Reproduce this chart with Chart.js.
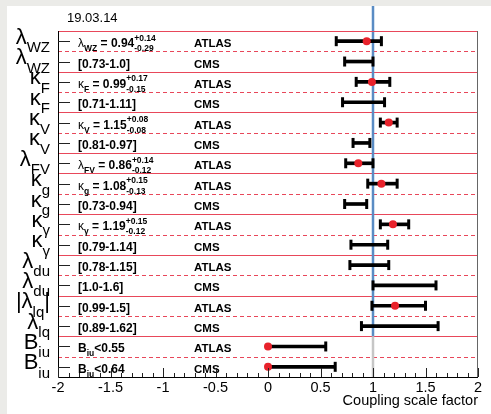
<!DOCTYPE html>
<html><head><meta charset="utf-8">
<script src="https://cdn.jsdelivr.net/npm/chart.js@4"></script>
<style>
html,body{margin:0;padding:0;background:#ebebe8;width:491px;height:414px;overflow:hidden}
#wrap{position:absolute;left:7px;top:6px;width:484px;height:408px;background:#fff}
canvas{display:block}
</style></head><body>
<div id="wrap"><canvas id="c" width="484" height="408"></canvas></div>
<script>
// ---- data ----
const dateText = '19.03.14';
const rowLabels = ['λ_{WZ}','λ_{WZ}','κ_{F}','κ_{F}','κ_{V}','κ_{V}','λ_{FV}','κ_{g}','κ_{g}','κ_{γ}','κ_{γ}','λ_{du}','λ_{du}','|λ_{lq}|','λ_{lq}','B_{iu}','B_{iu}'];
const experiments = ['ATLAS','CMS','ATLAS','CMS','ATLAS','CMS','ATLAS','ATLAS','CMS','ATLAS','CMS','ATLAS','CMS','ATLAS','CMS','ATLAS','CMS'];
const groups = ['WZ','WZ','F','F','V','V','FV','g','g','γ','γ','du','du','lq','lq','iu','iu'];
const resultTexts = [
  'λ_{WZ} = 0.94^{+0.14}_{-0.29}', '[0.73-1.0]',
  'κ_{F} = 0.99^{+0.17}_{-0.15}', '[0.71-1.11]',
  'κ_{V} = 1.15^{+0.08}_{-0.08}', '[0.81-0.97]',
  'λ_{FV} = 0.86^{+0.14}_{-0.12}',
  'κ_{g} = 1.08^{+0.15}_{-0.13}', '[0.73-0.94]',
  'κ_{γ} = 1.19^{+0.15}_{-0.12}', '[0.79-1.14]',
  '[0.78-1.15]', '[1.0-1.6]',
  '[0.99-1.5]', '[0.89-1.62]',
  'B_{iu}<0.55', 'B_{iu}<0.64'
];
const lowValues     = [0.65, 0.73, 0.84, 0.71, 1.07, 0.81, 0.74, 0.95, 0.73, 1.07, 0.79, 0.78, 1.00, 0.99, 0.89, 0.00, 0.00];
const highValues    = [1.08, 1.00, 1.16, 1.11, 1.23, 0.97, 1.00, 1.23, 0.94, 1.34, 1.14, 1.15, 1.60, 1.50, 1.62, 0.55, 0.64];
const centralValues = [0.94, null, 0.99, null, 1.15, null, 0.86, 1.08, null, 1.19, null, null, null, 1.21, null, 0.00, 0.00];
const upperLimitOnly = [false,false,false,false,false,false,false,false,false,false,false,false,false,false,false,true,true];
const xTickMin = -2, xTickMax = 2, xMinorStep = 0.1;
const xTitle = 'Coupling scale factor';
const referenceValue = 1;

// ---- derived ----
const rowKeys = rowLabels.map((l, i) => l + ' ' + experiments[i]);
const caps = [];
rowKeys.forEach((k, i) => {
  if (!upperLimitOnly[i]) caps.push({x: lowValues[i], y: k});
  caps.push({x: highValues[i], y: k});
});
const dots = [];
rowKeys.forEach((k, i) => { if (centralValues[i] !== null) dots.push({x: centralValues[i], y: k}); });

const FAM = '"Liberation Sans", Arial, Helvetica, sans-serif';
const RED = '#e8475a';

function parseRich(s) {
  const out = []; let i = 0, buf = '';
  while (i < s.length) {
    const c = s[i];
    if ((c === '_' || c === '^') && s[i + 1] === '{') {
      if (buf) { out.push({t: 'n', v: buf}); buf = ''; }
      const end = s.indexOf('}', i);
      out.push({t: c === '_' ? 'sub' : 'sup', v: s.slice(i + 2, end)});
      i = end + 1;
    } else { buf += c; i++; }
  }
  if (buf) out.push({t: 'n', v: buf});
  return out;
}
function drawRich(ctx, str, x, y, st, align) {
  const toks = parseRich(str);
  const items = []; let w = 0;
  const greekRe = /[\u0370-\u03ff]/;
  for (let k = 0; k < toks.length; k++) {
    const t = toks[k];
    if (t.t === 'n') {
      const runs = t.v.match(/[\u0370-\u03ff]+|[^\u0370-\u03ff]+/g);
      for (const r of runs) {
        const f = greekRe.test(r) ? st.greek : st.base;
        ctx.font = f; const rw = ctx.measureText(r).width;
        items.push({s: r, f, dx: w, dy: 0}); w += rw;
      }
    } else {
      const nxt = toks[k + 1];
      ctx.font = st.script;
      if (nxt && nxt.t !== 'n' && nxt.t !== t.t) {
        const w1 = ctx.measureText(t.v).width, w2 = ctx.measureText(nxt.v).width;
        items.push({s: t.v, f: st.script, dx: w, dy: t.t === 'sub' ? st.subDy : st.supDy});
        items.push({s: nxt.v, f: st.script, dx: w, dy: nxt.t === 'sub' ? st.subDy : st.supDy});
        w += Math.max(w1, w2); k++;
      } else {
        const ww = ctx.measureText(t.v).width;
        items.push({s: t.v, f: st.script, dx: w, dy: t.t === 'sub' ? st.subDy : st.supDy});
        w += ww;
      }
    }
  }
  const x0 = align === 'right' ? x - w : x;
  for (const it of items) { ctx.font = it.f; ctx.fillText(it.s, x0 + it.dx, y + it.dy); }
}

const axisLabelStyle = {base: '22px ' + FAM, greek: '22px ' + FAM, script: '15px ' + FAM, subDy: 8.5, supDy: -8};
const resultStyle = {base: 'bold 12px ' + FAM, greek: '12px ' + FAM, script: 'bold 8.5px ' + FAM, subDy: 4, supDy: -6.5};

const decor = {
  id: 'decor',
  beforeDatasetsDraw(chart) {
    const {ctx, chartArea: a, scales: {x, y}} = chart;
    ctx.save();
    // row separators
    ctx.lineWidth = 1; ctx.strokeStyle = RED;
    for (let i = 0; i < rowKeys.length - 1; i++) {
      const py = Math.round((y.getPixelForValue(i) + y.getPixelForValue(i + 1)) / 2) + 0.5;
      ctx.setLineDash(groups[i] === groups[i + 1] ? [4, 3] : []);
      ctx.beginPath(); ctx.moveTo(a.left, py); ctx.lineTo(a.right, py); ctx.stroke();
    }
    ctx.setLineDash([]);
    // reference line
    const px = x.getPixelForValue(referenceValue);
    const lastStart = groups.indexOf(groups[groups.length - 1]);
    const split = (y.getPixelForValue(lastStart - 1) + y.getPixelForValue(lastStart)) / 2;
    ctx.lineWidth = 2.5;
    ctx.strokeStyle = '#5a8cc4';
    ctx.beginPath(); ctx.moveTo(px, 0); ctx.lineTo(px, split); ctx.stroke();
    ctx.strokeStyle = '#c6c6c6';
    ctx.beginPath(); ctx.moveTo(px, split); ctx.lineTo(px, a.bottom); ctx.stroke();
    // texts
    ctx.fillStyle = '#000'; ctx.textBaseline = 'alphabetic'; ctx.textAlign = 'left';
    ctx.font = '13px ' + FAM;
    ctx.fillText(dateText, a.left + 9, 16);
    rowKeys.forEach((k, i) => {
      const cy = y.getPixelForValue(i);
      drawRich(ctx, rowLabels[i], a.left - 8, cy + 2.5, axisLabelStyle, 'right');
      drawRich(ctx, resultTexts[i], a.left + 20, cy + 6, resultStyle, 'left');
      ctx.font = 'bold 11.5px ' + FAM;
      ctx.fillText(experiments[i], a.left + 136, cy + 6);
    });
    ctx.restore();
  },
  afterDraw(chart) {
    const {ctx, chartArea: a, scales: {x, y}} = chart;
    ctx.save();
    ctx.lineWidth = 1;
    // frame
    ctx.strokeStyle = RED;
    ctx.beginPath(); ctx.moveTo(a.left, a.top + 0.5); ctx.lineTo(a.right, a.top + 0.5); ctx.stroke();
    ctx.strokeStyle = '#666';
    ctx.beginPath(); ctx.moveTo(a.right - 0.5, a.top); ctx.lineTo(a.right - 0.5, a.bottom); ctx.stroke();
    ctx.strokeStyle = '#000';
    ctx.beginPath(); ctx.moveTo(a.left + 0.5, a.top); ctx.lineTo(a.left + 0.5, a.bottom + 0.5);
    ctx.lineTo(a.right, a.bottom + 0.5); ctx.stroke();
    // y ticks (inward)
    ctx.strokeStyle = '#222';
    rowKeys.forEach((k, i) => {
      const py = Math.round(y.getPixelForValue(i)) + 0.5;
      ctx.beginPath(); ctx.moveTo(a.left, py); ctx.lineTo(a.left + 12, py); ctx.stroke();
    });
    // x ticks (inward)
    x.ticks.forEach(t => {
      const major = Math.abs(t.value * 2 - Math.round(t.value * 2)) < 1e-6;
      const px = Math.round(x.getPixelForValue(t.value)) + 0.5;
      ctx.beginPath(); ctx.moveTo(px, a.bottom); ctx.lineTo(px, a.bottom - (major ? 9 : 4)); ctx.stroke();
    });
    ctx.restore();
  }
};

Chart.defaults.font.family = FAM;
new Chart(document.getElementById('c'), {
  type: 'bar',
  data: {
    labels: rowKeys,
    datasets: [
      {type: 'line', data: dots, showLine: false, pointStyle: 'circle', pointRadius: 4,
       pointBackgroundColor: '#e8222b', pointBorderWidth: 0, pointBorderColor: '#e8222b', order: 0},
      {type: 'line', data: caps, showLine: false, pointStyle: 'line', rotation: 90, pointRadius: 5,
       pointBorderWidth: 3, pointBorderColor: '#000', borderColor: '#000', order: 1},
      {type: 'bar', data: lowValues.map((lo, i) => [lo, highValues[i]]), backgroundColor: '#000',
       barThickness: 3, borderWidth: 0, borderSkipped: false, order: 2}
    ]
  },
  options: {
    indexAxis: 'y',
    responsive: false,
    devicePixelRatio: 1,
    animation: false,
    events: [],
    layout: {padding: {left: 51, right: 13, top: 25, bottom: 0}},
    plugins: {legend: {display: false}, tooltip: {enabled: false}},
    scales: {
      y: {type: 'category', display: false, offset: true},
      x: {
        type: 'linear', min: xTickMin, max: xTickMax,
        grid: {display: false, drawTicks: false},
        border: {display: false},
        ticks: {
          stepSize: xMinorStep, autoSkip: false, maxRotation: 0, minRotation: 0,
          color: '#000', font: {size: 14.5}, padding: 2,
          callback: v => {
            if (Math.abs(v * 2 - Math.round(v * 2)) > 1e-6) return '';
            const r = Math.round(v * 2) / 2;
            return r === 0 ? '0' : String(r);
          }
        },
        title: {display: true, text: xTitle, align: 'end', color: '#000', font: {size: 14.5}, padding: {top: 0, bottom: 4}},
        afterFit: s => { s.height = 37; }
      }
    }
  },
  plugins: [decor]
});
</script>
</body></html>
